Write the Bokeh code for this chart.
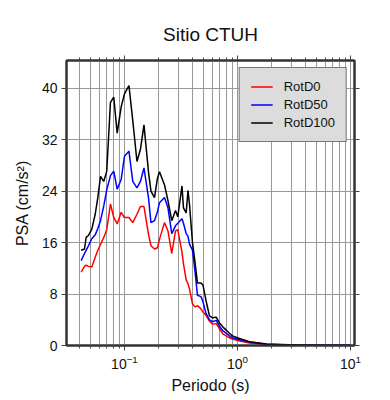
from bokeh.plotting import figure
from bokeh.models import (LogAxis, LinearAxis, FixedTicker, Range1d, Legend, LegendItem)
from bokeh.embed import file_html
from bokeh.resources import INLINE

# ---- data ----
periods = [0.0414, 0.0443, 0.0458, 0.0480, 0.0514, 0.0551, 0.0581, 0.0614, 0.0656, 0.0697,
           0.0752, 0.0804, 0.0862, 0.0935, 0.100, 0.1096, 0.1184, 0.1290, 0.1385, 0.1488,
           0.1631, 0.1716, 0.1843, 0.1959, 0.2041, 0.2259, 0.2427, 0.2622, 0.2828, 0.2963,
           0.3228, 0.3328, 0.3516, 0.3648, 0.3760, 0.3998, 0.4208, 0.4426, 0.4753, 0.4952,
           0.5263, 0.5652, 0.6009, 0.6478, 0.6927, 0.7410, 0.850, 0.9033, 1.0416, 1.276,
           1.806, 2.88, 5.32, 10.0]
rotd0 = [11.4, 12.3, 12.5, 12.3, 12.2, 13.7, 14.8, 15.7, 16.8, 18.0,
         22.0, 19.9, 18.9, 20.7, 19.9, 19.9, 19.1, 20.4, 21.6, 21.6,
         17.3, 15.5, 15.0, 15.2, 16.5, 19.1, 17.8, 14.3, 17.8, 18.0,
         14.5, 12.7, 10.2, 9.6, 8.8, 6.5, 6.0, 6.2, 5.7, 5.2,
         4.7, 3.8, 3.3, 3.4, 2.6, 1.8, 1.2, 1.0, 0.7, 0.4,
         0.15, 0.06, 0.02, 0.01]
rotd50 = [13.2, 14.3, 14.8, 15.5, 16.6, 17.2, 18.2, 19.4, 21.7, 24.2,
          26.4, 27.1, 24.3, 25.8, 29.4, 30.2, 25.5, 24.5, 25.5, 27.6,
          23.0, 19.1, 19.4, 20.8, 22.2, 23.0, 21.4, 17.4, 18.6, 19.0,
          19.7, 19.0, 17.4, 17.0, 15.8, 14.8, 11.5, 7.8, 7.6, 6.8,
          5.0, 4.0, 3.7, 3.9, 3.0, 2.3, 1.5, 1.2, 0.9, 0.55,
          0.2, 0.08, 0.03, 0.02]
rotd100 = [14.8, 15.0, 16.8, 17.1, 18.1, 20.4, 23.0, 26.3, 25.5, 27.1,
           37.8, 38.6, 33.0, 37.1, 39.1, 40.4, 35.0, 28.6, 30.5, 34.3,
           27.0, 24.0, 23.0, 26.0, 27.0, 25.0, 22.5, 19.4, 21.0, 20.0,
           24.8, 21.4, 20.6, 24.1, 22.0, 16.0, 13.0, 9.7, 9.7, 9.4,
           7.0, 4.6, 4.3, 4.4, 3.5, 2.9, 1.9, 1.5, 1.1, 0.6,
           0.25, 0.1, 0.04, 0.02]
series_names = ["RotD0", "RotD50", "RotD100"]
series_colors = ["#ff0000", "#0000ff", "#000000"]
x_major = [0.1, 1.0, 10.0]
x_minor = [0.04, 0.05, 0.06, 0.07, 0.08, 0.09,
           0.2, 0.3, 0.4, 0.5, 0.6, 0.7, 0.8, 0.9,
           2, 3, 4, 5, 6, 7, 8, 9]
y_ticks = [0, 8, 16, 24, 32, 40]

FONT = "Liberation Sans"
AX = "#333333"

p = figure(width=381, height=396, x_axis_type="log",
           x_range=Range1d(0.0307, 10.85), y_range=Range1d(0, 44.3),
           output_backend="svg", toolbar_location=None,
           min_border_left=66, min_border_right=27, min_border_top=60, min_border_bottom=40)
p.background_fill_color = "white"
p.border_fill_color = "white"
p.outline_line_color = AX
p.outline_line_width = 2

p.title.text = "Sitio CTUH"
p.title.align = "center"
p.title.text_font = FONT
p.title.text_font_size = "19px"
p.title.text_font_style = "normal"
p.title.text_color = "#111111"
p.title.standoff = 21

xt = FixedTicker(ticks=x_major, minor_ticks=x_minor)
yt = FixedTicker(ticks=y_ticks, minor_ticks=[])

def style_axis(ax, labels=True):
    ax.axis_line_color = AX
    ax.axis_line_width = 2
    ax.major_tick_line_color = "#444444"
    ax.minor_tick_line_color = "#444444"
    ax.major_tick_out = 5
    ax.major_tick_in = 0
    ax.minor_tick_out = 3
    ax.minor_tick_in = 0
    ax.major_label_text_font = FONT
    ax.major_label_text_font_size = "14px" if labels else "1px"
    ax.major_label_text_color = "#111111" if labels else None
    ax.axis_label_text_font = FONT
    ax.axis_label_text_font_size = "16px"
    ax.axis_label_text_font_style = "normal"
    ax.axis_label_text_color = "#111111"

p.xaxis.ticker = xt
p.yaxis.ticker = yt
p.xaxis.axis_label = "Periodo (s)"
p.yaxis.axis_label = "PSA (cm/s²)"
style_axis(p.xaxis[0])
style_axis(p.yaxis[0])
p.yaxis.minor_tick_line_color = None
p.xaxis.major_label_standoff = 4
p.yaxis.major_label_standoff = 4
p.xaxis.axis_label_standoff = 5
p.yaxis.axis_label_standoff = 8

top = LogAxis(ticker=xt)
style_axis(top, labels=False)
p.add_layout(top, "above")
right = LinearAxis(ticker=yt)
style_axis(right, labels=False)
right.minor_tick_line_color = None
p.add_layout(right, "right")

p.xgrid.ticker = xt
p.ygrid.ticker = yt
p.xgrid.grid_line_color = "#999999"
p.xgrid.minor_grid_line_color = "#999999"
p.ygrid.grid_line_color = "#999999"
p.xgrid.grid_line_width = 1
p.xgrid.minor_grid_line_width = 1

renderers = []
for ys, c in zip([rotd0, rotd50, rotd100], series_colors):
    r = p.line(periods, ys, line_color=c, line_width=1.5)
    renderers.append(r)

legend = Legend(items=[LegendItem(label=n, renderers=[r]) for n, r in zip(series_names, renderers)],
                location="top_right")
legend.background_fill_color = "#dcdcdc"
legend.background_fill_alpha = 1
legend.border_line_color = "#111111"
legend.border_line_width = 1.5
legend.label_text_font = FONT
legend.label_text_font_size = "13px"
legend.label_text_color = "#111111"
legend.padding = 11
legend.spacing = 3
legend.label_height = 15
legend.glyph_height = 15
legend.glyph_width = 22
legend.label_standoff = 11
legend.margin = 7
legend.border_radius = 0
p.add_layout(legend)

open("out.html", "w").write(file_html(p, INLINE))
